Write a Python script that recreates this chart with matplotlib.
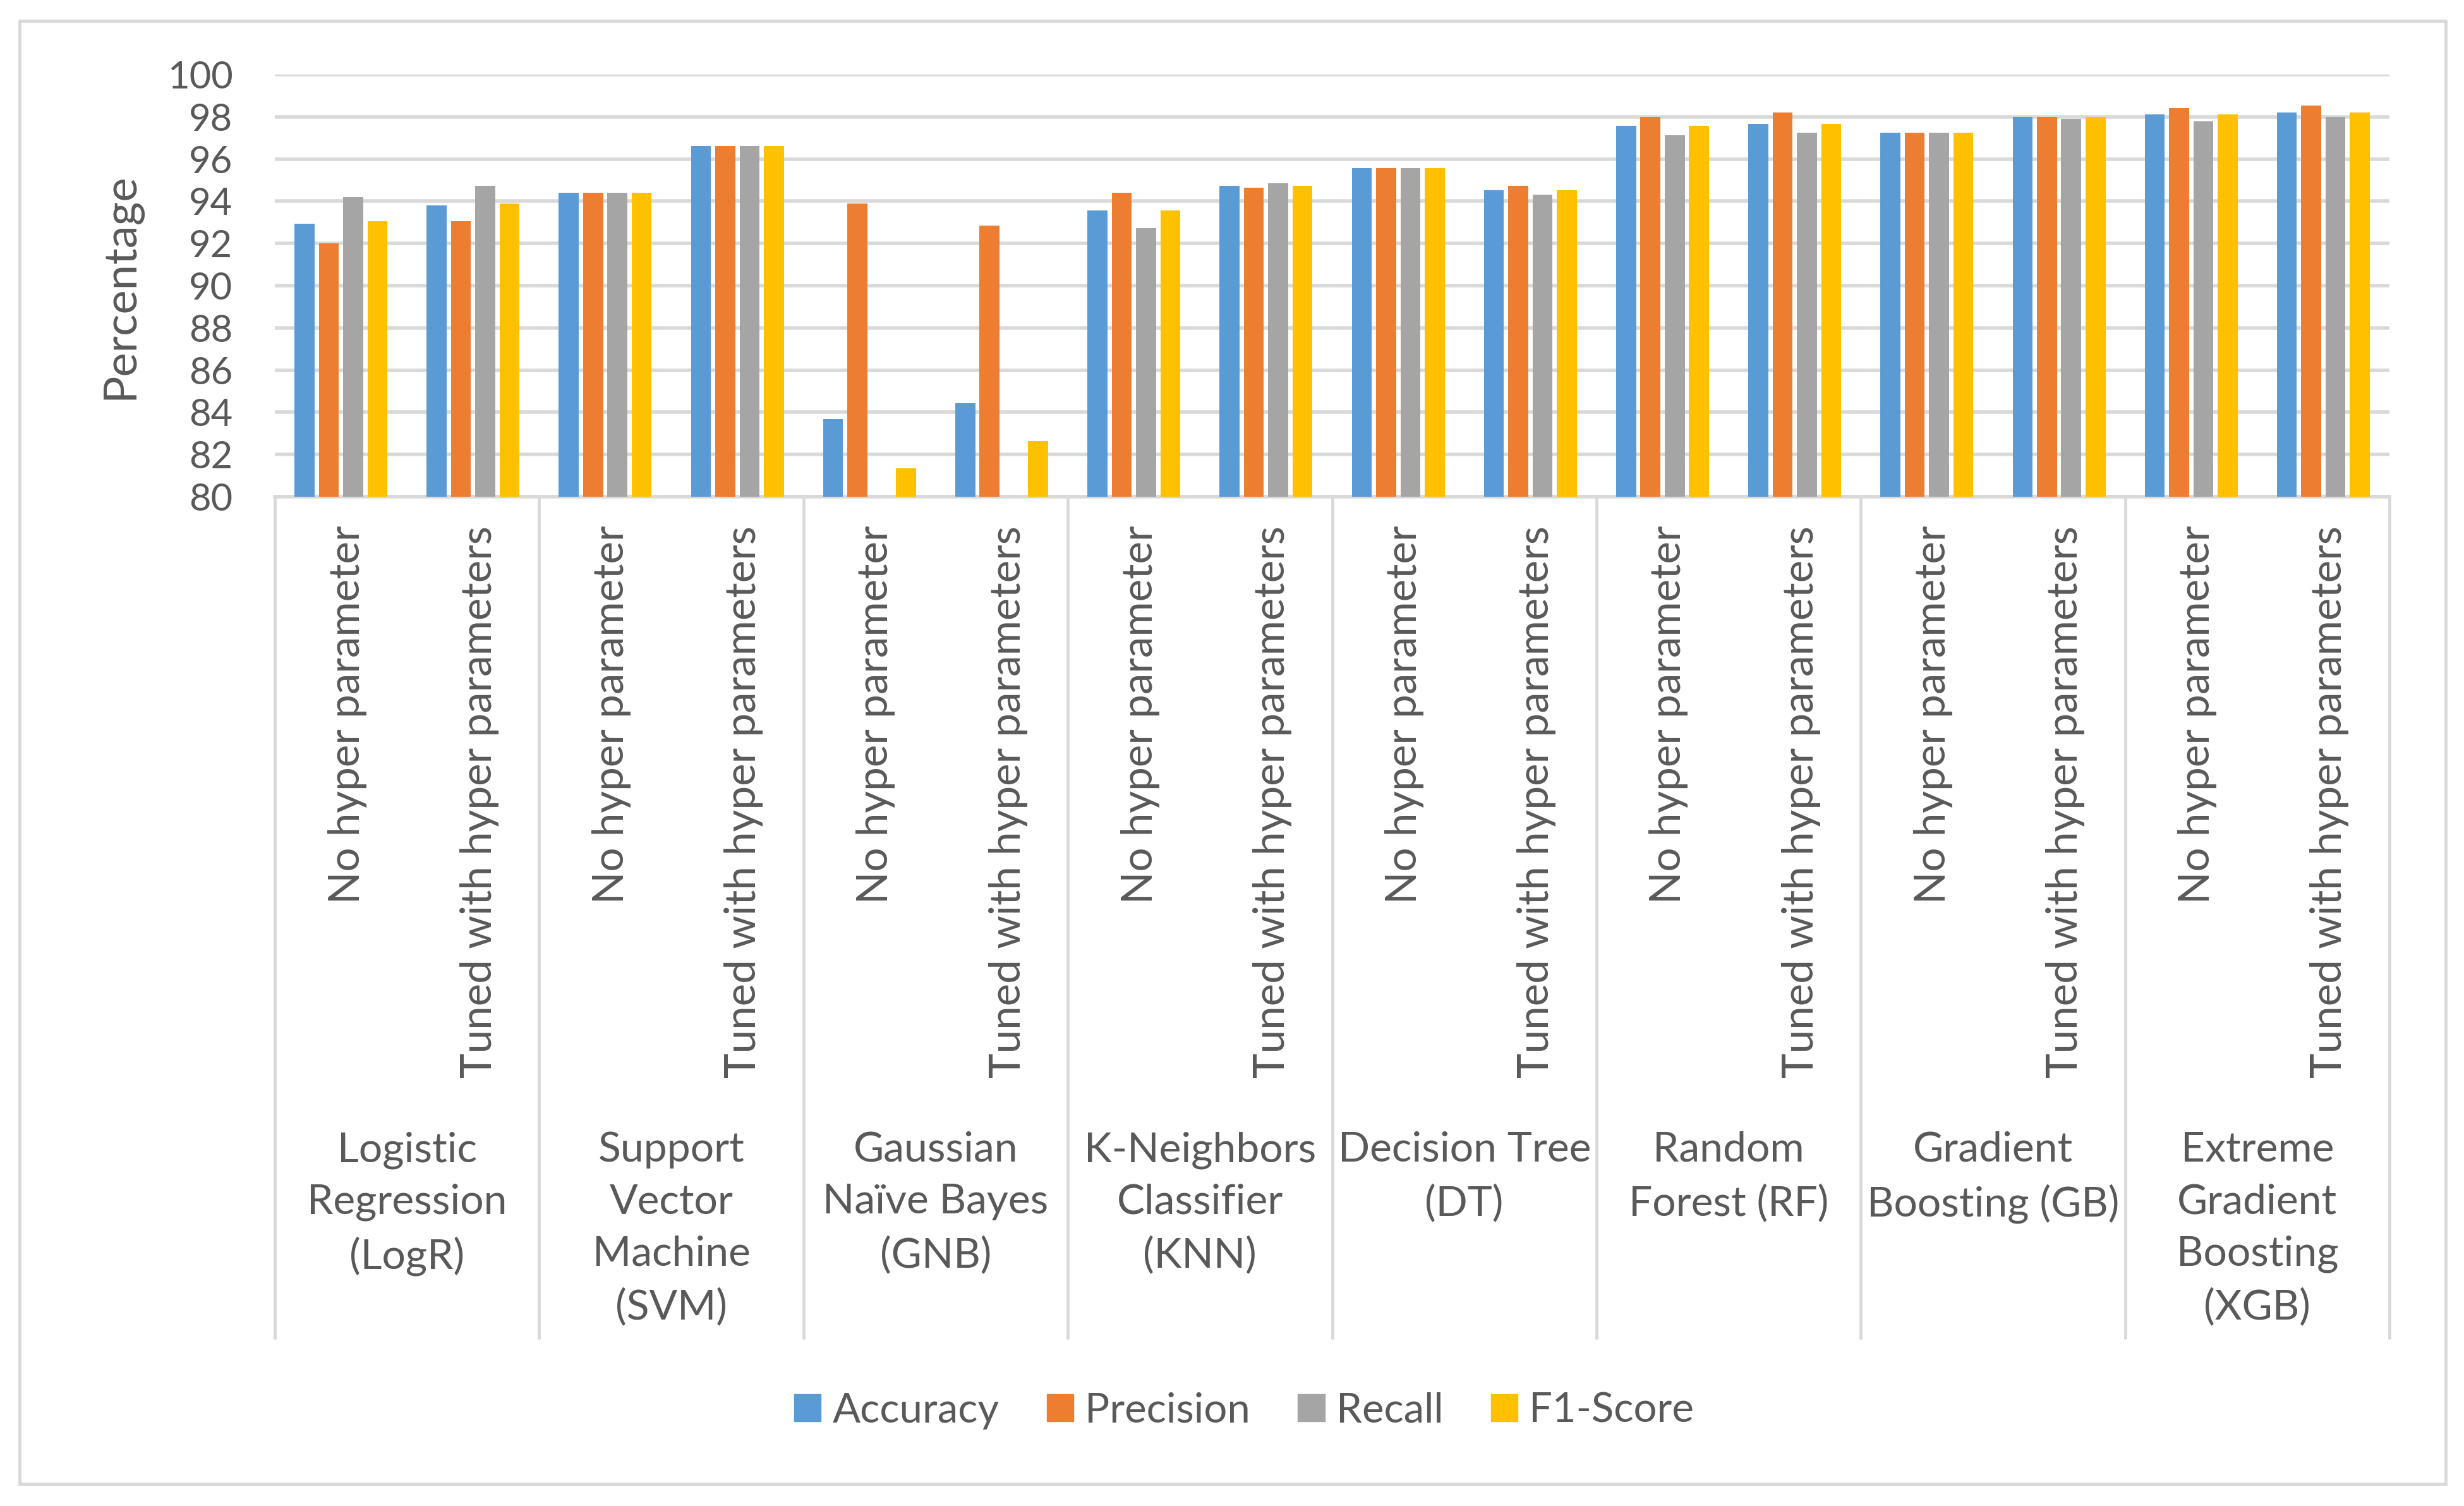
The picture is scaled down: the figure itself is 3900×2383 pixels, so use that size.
import numpy as np
import matplotlib.pyplot as plt
from matplotlib.patches import Rectangle, Patch
from matplotlib import transforms

plt.rcParams['font.family'] = ['Lato', 'DejaVu Sans']

models = ["Logistic\nRegression\n(LogR)", "Support\nVector\nMachine\n(SVM)",
          "Gaussian\nNaïve Bayes\n(GNB)", "K-Neighbors\nClassifier\n(KNN)",
          "Decision Tree\n(DT)", "Random\nForest (RF)", "Gradient\nBoosting (GB)",
          "Extreme\nGradient\nBoosting\n(XGB)"]
settings = ["No hyper parameter", "Tuned with hyper parameters"]
metrics = ["Accuracy", "Precision", "Recall", "F1-Score"]

# one value per (model, setting), in the order of the x axis
accuracy = [92.93, 93.80, 94.40, 96.62, 83.69, 84.42, 93.57, 94.73,
            95.58, 94.53, 97.57, 97.67, 97.24, 97.99, 98.11, 98.20]
precision = [92.00, 93.05, 94.40, 96.62, 93.88, 92.83, 94.40, 94.63,
             95.58, 94.73, 97.99, 98.20, 97.24, 97.99, 98.42, 98.53]
# GNB recall is below the axis minimum (80) and does not show
recall = [94.20, 94.73, 94.40, 96.62, 71.80, 74.45, 92.72, 94.84,
          95.58, 94.32, 97.14, 97.24, 97.24, 97.89, 97.78, 97.99]
f1_score = [93.05, 93.88, 94.40, 96.62, 81.36, 82.63, 93.57, 94.73,
            95.58, 94.53, 97.57, 97.67, 97.24, 97.99, 98.11, 98.20]

colors = ["#5B9BD5", "#ED7D31", "#A5A5A5", "#FFC000"]
text_col = "#595959"
line_col = "#D9D9D9"

W, H = 3900, 2383
fig = plt.figure(figsize=(W / 100, H / 100), dpi=100)
left, right, top, bottom = 435, 3782, 118, 786
ax = fig.add_axes([left / W, 1 - bottom / H, (right - left) / W, (bottom - top) / H])

x = np.arange(len(accuracy))
pitch = 0.184
width = 0.151
for i, vals in enumerate([accuracy, precision, recall, f1_score]):
    ax.bar(x + (i - 1.5) * pitch, vals, width, color=colors[i], zorder=3)

ax.set_xlim(-0.5, len(x) - 0.5)
ax.set_ylim(80, 100)
ax.set_yticks(np.arange(80, 101, 2))
ax.yaxis.grid(True, color=line_col, linewidth=4, zorder=0)
for s in ["top", "right", "left"]:
    ax.spines[s].set_visible(False)
ax.spines["bottom"].set_color(line_col)
ax.spines["bottom"].set_linewidth(4)

ax.set_xticks(x)
ax.set_xticklabels(settings * len(models), rotation=90)
ax.tick_params(axis="x", length=0, pad=33, labelsize=48.5, labelcolor=text_col)
ax.tick_params(axis="y", length=0, pad=48, labelsize=43, labelcolor=text_col)
shift = transforms.ScaledTranslation(10 / 100, 0, fig.dpi_scale_trans)
for lab in ax.get_xticklabels():
    lab.set_transform(lab.get_transform() + shift)

# second category level: model names and separators
trans = transforms.blended_transform_factory(ax.transData, fig.transFigure)
sep_bottom = 1 - 2119 / H
for b in np.arange(-0.5, len(x), 2):
    ax.plot([b, b], [1 - bottom / H, sep_bottom], transform=trans, color=line_col,
            linewidth=3.5, clip_on=False, solid_capstyle="butt")
for j, name in enumerate(models):
    ax.text(2 * j + 0.5, 1 - 1790 / H, name, transform=trans, ha="center", va="top",
            fontsize=47.5, color=text_col, linespacing=1.48)

fig.text(191 / W, 1 - 453 / H, "Percentage", rotation=90, ha="center", va="center",
         fontsize=52, color=text_col)

handles = [Patch(color=c, label=m) for c, m in zip(colors, metrics)]
fig.legend(handles=handles, loc="center", bbox_to_anchor=(1969 / W, 1 - 2232 / H),
           ncol=4, frameon=False, fontsize=47, labelcolor=text_col,
           handlelength=0.65, handleheight=0.65, handletextpad=0.28, columnspacing=1.15)

fig.patches.append(Rectangle((31 / W, 1 - 2348 / H), (3871 - 31) / W, (2348 - 33) / H,
                             transform=fig.transFigure, fill=False,
                             edgecolor=line_col, linewidth=3.5))

fig.savefig("out.png", dpi=100, facecolor="white")
